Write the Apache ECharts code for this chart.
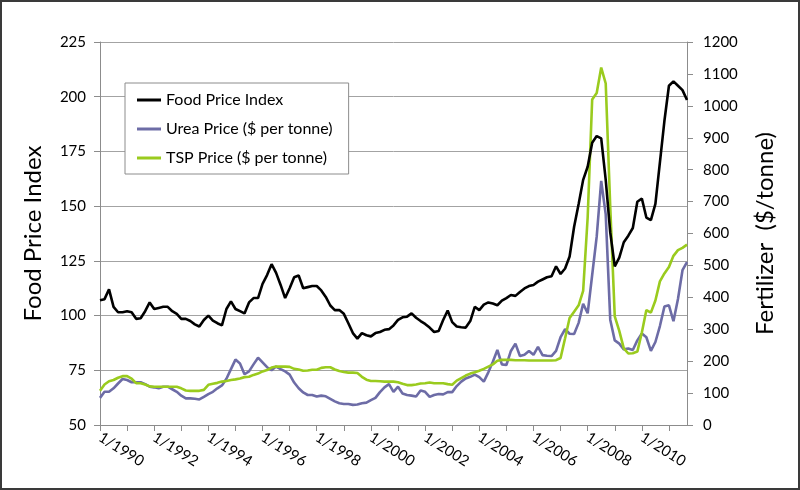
<!DOCTYPE html>
<html>
<head>
<meta charset="utf-8">
<script src="https://cdn.jsdelivr.net/npm/echarts@6/dist/echarts.min.js"></script>
<style>
  html, body { margin: 0; padding: 0; background: #fff; }
  #chart { width: 800px; height: 490px; }
</style>
</head>
<body>
<div id="chart"></div>
<script>
// bimonthly readings, Jan 1990 .. Sep 2011
var foodIndex = [
  107, 107.5, 112, 104, 101.5, 101.5,
  102, 101.5, 98.5, 98.8, 102, 106,
  103, 103.5, 104, 104, 102, 100.8,
  98.5, 98.5, 97.5, 96, 95, 98,
  100, 97.7, 96.5, 95.5, 103, 106.5,
  103, 102, 101, 106, 108, 108,
  114.5, 118.5, 123.5, 119.5, 114, 108,
  112.5, 117.5, 118.3, 112.5, 113, 113.5,
  113.5, 111.5, 108.5, 104.6, 102.5, 102.5,
  100.8, 96.5, 92, 89.5, 92, 91,
  90.5, 92, 92.5, 93.5, 93.8, 95.5,
  98, 99.2, 99.5, 101, 99, 97.5,
  96.2, 94.5, 92.5, 93, 98, 102.3,
  97, 95, 94.7, 94.5, 97.5, 104,
  102.5, 105, 106, 105.5, 104.7, 106.8,
  108, 109.4, 109, 110.8, 112.4, 113.5,
  114, 115.5, 116.5, 117.5, 118, 122.5,
  119, 121.5, 127, 140.6, 151, 162,
  168, 179, 182, 181, 162, 138,
  122.5, 126.5, 133.5, 136.5, 140, 152,
  153.5, 144.8, 143.6, 151, 170, 189,
  205, 207, 205, 203, 198.5
];
var ureaPrice = [
  85, 104, 104, 115, 130, 144,
  141, 134, 134, 134, 128, 120,
  118, 115, 120, 120, 112, 104,
  92, 83.5, 83.5, 82, 80, 88,
  97, 104, 115, 124, 145, 175,
  205, 193, 159, 168, 190, 211,
  196, 181, 172, 183, 175, 168,
  158, 133, 115, 102, 94, 94,
  89, 92, 90, 82, 74, 68,
  66, 66, 63, 64, 68, 70,
  78, 85, 103, 118, 128, 104,
  120, 99, 94, 92, 89, 108,
  104, 88, 94, 97, 96, 103,
  103, 122, 136, 146, 151, 158,
  150, 136, 165, 198, 235, 190,
  188, 232, 255, 216, 220, 232,
  220, 245, 219, 217, 216, 232,
  275, 300, 286, 285, 320, 380,
  350, 470, 590, 765, 660, 330,
  265, 255, 237, 240, 235, 265,
  287, 275, 232, 260, 310, 371,
  375, 325, 395, 485, 510
];
var tspPrice = [
  107, 127, 137, 141, 148, 153,
  153, 145, 131, 131, 127, 121,
  120, 120, 120, 120, 120, 120,
  115, 108, 107, 107, 107, 110,
  126, 129, 132, 136, 138, 141,
  143, 146, 150, 151, 157, 161,
  168, 172, 180, 183, 183, 183,
  182, 176, 174, 170, 171, 173,
  173, 179, 181, 181, 174, 169,
  166, 164, 164, 163, 151, 142,
  138, 138, 137, 136, 136, 136,
  134, 129, 125, 125, 127, 130,
  131, 133, 131, 131, 131, 128,
  126, 139, 147, 155, 161, 165,
  170, 176, 183, 190, 201, 204,
  204, 204, 203, 203, 203, 202,
  202, 202, 202, 202, 202, 203,
  210, 272, 335, 355, 375, 420,
  650, 1020, 1040, 1120, 1070, 684,
  340, 295, 240, 224, 225, 230,
  290, 360, 352, 390, 450, 475,
  495, 530, 548, 555, 565
];
var seriesNames = ['Food Price Index', 'Urea Price ($ per tonne)', 'TSP Price ($ per tonne)'];
var leftTicks = { min: 50, max: 225, step: 25 };
var rightTicks = { min: 0, max: 1200, step: 100 };

// month labels for the category axis
var months = [];
for (var y = 1990; y <= 2011; y++) {
  [1, 3, 5, 7, 9, 11].forEach(function (m) {
    if (months.length < foodIndex.length) months.push(m + '/' + y);
  });
}

var font = 'Lato, "Open Sans", sans-serif';
var gridColor = '#a3a3a3';
var axisColor = '#8c8c8c';

var chart = echarts.init(document.getElementById('chart'));
chart.setOption({
  animation: false,
  backgroundColor: '#fff',
  graphic: [{
    type: 'rect',
    shape: { x: 1, y: 1, width: 798, height: 488 },
    style: { fill: 'none', stroke: '#3a3a3a', lineWidth: 2 },
    silent: true
  }],
  grid: { left: 100, right: 113, top: 42, bottom: 65 },
  legend: {
    data: seriesNames,
    orient: 'vertical',
    left: 125,
    top: 83,
    icon: 'rect',
    backgroundColor: '#fff',
    borderColor: '#8c8c8c',
    borderWidth: 1,
    padding: [8, 16, 7, 12],
    itemGap: 11,
    itemWidth: 24,
    itemHeight: 3,
    itemTextGap: 1,
    textStyle: { fontFamily: font, fontSize: 16, color: '#000', lineHeight: 18 }
  },
  xAxis: {
    type: 'category',
    data: months,
    boundaryGap: false,
    axisLine: { lineStyle: { color: axisColor, width: 1 } },
    axisTick: {
      length: 6,
      lineStyle: { color: axisColor },
      interval: function (i) { return i % 6 === 0; }
    },
    axisLabel: {
      interval: function (i) { return i % 12 === 0; },
      rotate: -32,
      margin: 11,
      fontFamily: font,
      fontSize: 15,
      color: '#000'
    },
    splitLine: { show: false }
  },
  yAxis: [
    {
      type: 'value',
      position: 'left',
      min: leftTicks.min,
      max: leftTicks.max,
      interval: leftTicks.step,
      name: 'Food Price Index',
      nameLocation: 'middle',
      nameRotate: 90,
      nameGap: 55,
      nameTextStyle: { fontFamily: font, fontSize: 24, color: '#000' },
      axisLine: { show: true, lineStyle: { color: axisColor } },
      axisTick: { show: true, length: 6, lineStyle: { color: axisColor } },
      axisLabel: { margin: 14, fontFamily: font, fontSize: 15, color: '#000' },
      splitLine: { lineStyle: { color: gridColor, width: 1 } }
    },
    {
      type: 'value',
      position: 'right',
      min: rightTicks.min,
      max: rightTicks.max,
      interval: rightTicks.step,
      name: 'Fertilizer  ($/tonne)',
      nameLocation: 'middle',
      nameRotate: 90,
      nameGap: 66,
      nameTextStyle: { fontFamily: font, fontSize: 24, color: '#000' },
      axisLine: { show: true, lineStyle: { color: axisColor } },
      axisTick: { show: true, length: 6, lineStyle: { color: axisColor } },
      axisLabel: {
        margin: 16,
        fontFamily: font,
        fontSize: 15,
        color: '#000',
        formatter: function (v) { return String(v); }
      },
      splitLine: { show: false }
    }
  ],
  series: [
    {
      name: seriesNames[1],
      type: 'line',
      yAxisIndex: 1,
      data: ureaPrice,
      symbol: 'none',
      color: '#6d6ca6',
      lineStyle: { width: 2.6, color: '#6d6ca6' }
    },
    {
      name: seriesNames[2],
      type: 'line',
      yAxisIndex: 1,
      data: tspPrice,
      symbol: 'none',
      color: '#9acb1e',
      lineStyle: { width: 2.6, color: '#9acb1e' }
    },
    {
      name: seriesNames[0],
      type: 'line',
      yAxisIndex: 0,
      data: foodIndex,
      symbol: 'none',
      color: '#000',
      lineStyle: { width: 2.6, color: '#000' }
    }
  ]
});
</script>
</body>
</html>
